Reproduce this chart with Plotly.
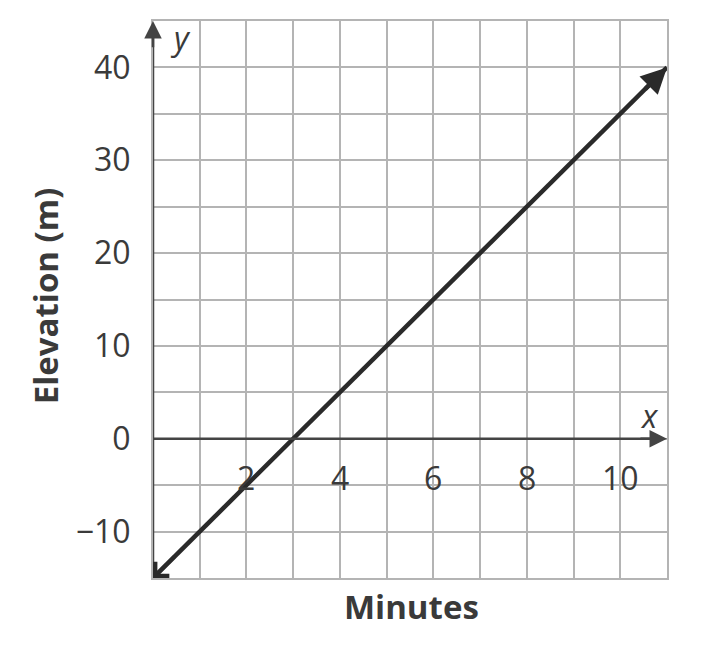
import plotly.graph_objects as go

# Data
minutes = [0, 11]
elevation = [-15, 40]

x_range = [0, 11]
y_range = [-15, 45]
x_grid = list(range(0, 12))
y_grid = list(range(-15, 46, 5))
y_tick_labels = {-10: "\u221210", 0: "0", 10: "10", 20: "20", 30: "30", 40: "40"}
x_tick_vals = [2, 4, 6, 8, 10]
x_tick_text = ["2", "4", "6", "8", "10"]

FONT = "Open Sans"
TXT = "#3a3a3a"
GRID = "#b4b4b4"
AXIS = "#444444"
LINE = "#2a2a2a"
TICKFONT = dict(family=FONT, color=TXT, size=32, weight=500)

fig = go.Figure()

fig.add_trace(go.Scatter(
    x=minutes, y=elevation, mode="lines",
    line=dict(color=LINE, width=4.5), hoverinfo="skip", showlegend=False,
))

ticktext = [y_tick_labels.get(v, "") for v in y_grid]

fig.update_layout(
    width=712, height=652,
    margin=dict(l=145, r=53, t=11, b=82),
    paper_bgcolor="white", plot_bgcolor="white",
    showlegend=False,
    font=dict(family=FONT, color=TXT, size=30),
    xaxis=dict(
        range=x_range, tickvals=x_grid, showticklabels=False,
        showgrid=True, gridcolor=GRID, gridwidth=2,
        zeroline=False, showline=True, linecolor=GRID, linewidth=2, mirror=True,
        fixedrange=True,
    ),
    yaxis=dict(
        range=y_range, tickvals=y_grid, ticktext=ticktext,
        showgrid=True, gridcolor=GRID, gridwidth=2,
        zeroline=False, showline=True, linecolor=GRID, linewidth=2, mirror=True,
        ticklabelstandoff=14,
        tickfont=TICKFONT,
        fixedrange=True,
    ),
)

# Axis lines with arrows
fig.add_shape(type="line", x0=0, y0=y_range[0], x1=0, y1=y_range[1] - 1.5,
              line=dict(color=AXIS, width=2.5), layer="above")
fig.add_shape(type="line", x0=0, y0=0, x1=x_range[1] - 0.3, y1=0,
              line=dict(color=AXIS, width=2.5), layer="above")
fig.add_annotation(x=0, y=y_range[1], ax=0, ay=y_range[1] - 3, axref="x", ayref="y",
                   xref="x", yref="y", text="", showarrow=True, arrowhead=2,
                   arrowsize=1.4, arrowwidth=2.5, arrowcolor=AXIS, standoff=0)
fig.add_annotation(x=x_range[1], y=0, ax=x_range[1] - 0.6, ay=0, axref="x", ayref="y",
                   xref="x", yref="y", text="", showarrow=True, arrowhead=2,
                   arrowsize=1.4, arrowwidth=2.5, arrowcolor=AXIS, standoff=0)

# Arrowheads on the line
fig.add_annotation(x=minutes[-1], y=elevation[-1], ax=minutes[-1] - 0.5, ay=elevation[-1] - 2.5,
                   axref="x", ayref="y", xref="x", yref="y", text="", showarrow=True,
                   arrowhead=2, arrowsize=1.15, arrowwidth=4.5, arrowcolor=LINE, standoff=0)
fig.add_annotation(x=minutes[0], y=elevation[0], ax=minutes[0] + 0.5, ay=elevation[0] + 2.5,
                   axref="x", ayref="y", xref="x", yref="y", text="", showarrow=True,
                   arrowhead=4, arrowsize=1.1, arrowwidth=3.5, arrowcolor=LINE, standoff=0)

# x tick labels inside plot
for v, t in zip(x_tick_vals, x_tick_text):
    fig.add_annotation(x=v, y=-4.2, xref="x", yref="y", text=t, showarrow=False,
                       font=TICKFONT, xanchor="center", yanchor="middle")

# axis letters
fig.add_annotation(x=0.58, y=y_range[1] - 1.8, xref="x", yref="y", text="<i>y</i>",
                   showarrow=False, font=dict(family=FONT, color=TXT, size=32),
                   xanchor="center", yanchor="middle")
fig.add_annotation(x=10.62, y=2.5, xref="x", yref="y", text="<i>x</i>",
                   showarrow=False, font=dict(family=FONT, color=TXT, size=32),
                   xanchor="center", yanchor="middle")

# axis titles
fig.add_annotation(x=0.502, y=-0.052, xref="paper", yref="paper", text="<b>Minutes</b>",
                   showarrow=False, font=dict(family=FONT, color=TXT, size=33),
                   xanchor="center", yanchor="middle")
fig.add_annotation(x=-0.21, y=0.506, xref="paper", yref="paper", text="<b>Elevation (m)</b>",
                   showarrow=False, textangle=-90, font=dict(family=FONT, color=TXT, size=33),
                   xanchor="center", yanchor="middle")

fig.write_html("out.html")
